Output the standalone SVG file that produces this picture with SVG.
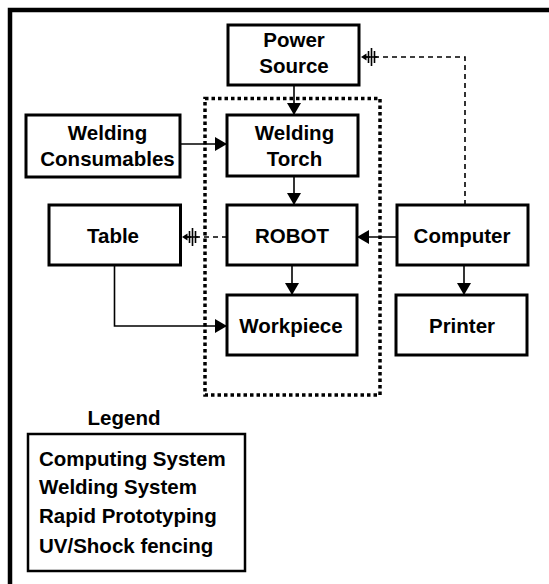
<svg xmlns="http://www.w3.org/2000/svg" width="549" height="584" viewBox="0 0 549 584">
  <defs>
    <style>
      .box { fill: #fff; stroke: #000; stroke-width: 3; }
      .lbl { font-family: "Liberation Sans", Arial, sans-serif; font-weight: bold; font-size: 20.5px; fill: #000; text-anchor: middle; }
      .leg { font-family: "Liberation Sans", Arial, sans-serif; font-weight: bold; font-size: 20.5px; fill: #000; }
      .solid { fill: none; stroke: #000; stroke-width: 1.6; }
      .dash { fill: none; stroke: #000; stroke-width: 1.6; stroke-dasharray: 5 4; }
      .fence { fill: none; stroke: #000; stroke-width: 3.5; stroke-dasharray: 3.5 3; }
    </style>
    <marker id="arrow" viewBox="0 0 12 14" refX="11" refY="7" markerWidth="12" markerHeight="14" markerUnits="userSpaceOnUse" orient="auto">
      <path d="M0,0 L12,7 L0,14 Z" fill="#000"/>
    </marker>
    <!-- grounded end: small head with stacked bars behind it -->
    <marker id="ground" viewBox="0 0 17 20" refX="16.5" refY="10" markerWidth="17" markerHeight="20" markerUnits="userSpaceOnUse" orient="auto">
      <path d="M16.5,10 L11,6.5 L11,13.5 Z" fill="#000"/>
      <path d="M0,10 H12 M3,4 V16 M6,1 V19 M9,4 V16" stroke="#000" stroke-width="1.6" fill="none"/>
    </marker>
  </defs>

  <!-- outer frame (top and left edges) -->
  <path d="M10,584 V10 H549" fill="none" stroke="#000" stroke-width="4.5"/>

  <!-- fencing around welding cell -->
  <rect class="fence" x="205" y="98.5" width="175" height="296.5"/>

  <g id="connectors">
    <path class="solid" d="M294,85 V114" marker-end="url(#arrow)"/>
    <path class="solid" d="M180,144 H226" marker-end="url(#arrow)"/>
    <path class="solid" d="M294,176 V204" marker-end="url(#arrow)"/>
    <path class="solid" d="M397,237 H358" marker-end="url(#arrow)"/>
    <path class="solid" d="M292,265 V294" marker-end="url(#arrow)"/>
    <path class="solid" d="M464,265 V294" marker-end="url(#arrow)"/>
    <path class="solid" d="M114.5,265 V326 H226" marker-end="url(#arrow)"/>
    <path class="dash" d="M227,237 H182" marker-end="url(#ground)"/>
    <path class="dash" d="M465,205 V57 H361" marker-end="url(#ground)"/>
  </g>

  <g id="power-source">
    <rect class="box" x="228" y="25" width="131" height="60"/>
    <text class="lbl" x="294" y="47">Power</text>
    <text class="lbl" x="294" y="73">Source</text>
  </g>
  <g id="welding-consumables">
    <rect class="box" x="26" y="115" width="154" height="62"/>
    <text class="lbl" x="107.5" y="140">Welding</text>
    <text class="lbl" x="107.5" y="166">Consumables</text>
  </g>
  <g id="welding-torch">
    <rect class="box" x="227" y="115" width="131" height="61"/>
    <text class="lbl" x="294.5" y="140">Welding</text>
    <text class="lbl" x="294.5" y="166">Torch</text>
  </g>
  <g id="table">
    <rect class="box" x="49" y="205" width="131.5" height="60"/>
    <text class="lbl" x="113" y="243">Table</text>
  </g>
  <g id="robot">
    <rect class="box" x="227" y="205" width="130" height="60"/>
    <text class="lbl" x="292" y="243">ROBOT</text>
  </g>
  <g id="computer">
    <rect class="box" x="397" y="205" width="131" height="60"/>
    <text class="lbl" x="462" y="243">Computer</text>
  </g>
  <g id="workpiece">
    <rect class="box" x="227" y="295" width="130" height="60"/>
    <text class="lbl" x="291" y="333">Workpiece</text>
  </g>
  <g id="printer">
    <rect class="box" x="396" y="295" width="131" height="60"/>
    <text class="lbl" x="462" y="333">Printer</text>
  </g>

  <g id="legend">
    <text class="lbl" x="124" y="425">Legend</text>
    <rect x="28" y="434" width="217" height="137" fill="#fff" stroke="#000" stroke-width="2.5"/>
    <text class="leg" x="39" y="466">Computing System</text>
    <text class="leg" x="39" y="494">Welding System</text>
    <text class="leg" x="39" y="523">Rapid Prototyping</text>
    <text class="leg" x="39" y="553">UV/Shock fencing</text>
  </g>
</svg>
